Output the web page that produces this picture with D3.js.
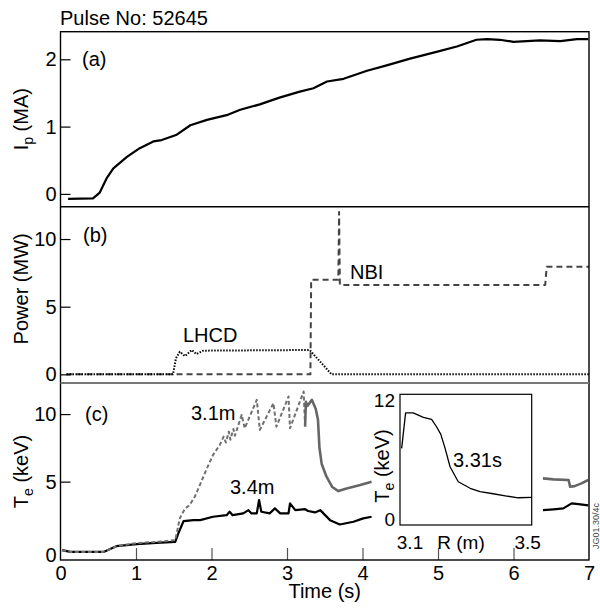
<!DOCTYPE html>
<html>
<head>
<meta charset="utf-8">
<script src="https://cdn.jsdelivr.net/npm/d3@7"></script>
<style>
  html, body { margin: 0; padding: 0; background: #ffffff; }
</style>
</head>
<body>
<div id="chart"></div>
<script>
// plasma current, panel (a)
const ipTime = [0.10, 0.43, 0.52, 0.61, 0.70, 0.88, 1.05, 1.23, 1.34, 1.54, 1.72, 1.94, 2.20, 2.38, 2.64, 2.90, 3.17, 3.35, 3.53, 3.75, 4.06, 4.32, 4.63, 4.98, 5.25, 5.51, 5.65, 5.82, 6.00, 6.35, 6.62, 6.84, 6.99];
const ipValue = [-0.075, -0.065, 0.02, 0.23, 0.38, 0.55, 0.68, 0.78, 0.80, 0.88, 1.02, 1.10, 1.17, 1.25, 1.33, 1.43, 1.52, 1.57, 1.67, 1.71, 1.83, 1.91, 2.01, 2.11, 2.19, 2.29, 2.30, 2.29, 2.26, 2.28, 2.27, 2.30, 2.30];

// heating power, panel (b)
const lhcdTime = [0.08, 1.49, 1.53, 1.58, 1.65, 1.74, 1.80, 1.89, 3.30, 3.59, 7.0];
const lhcdPower = [0, 0, 1.2, 1.67, 1.35, 1.8, 1.5, 1.75, 1.8, 0, 0];
const nbiTime = [0.08, 3.31, 3.32, 3.68, 3.69, 3.70, 3.72, 6.42, 6.44, 7.0];
const nbiPower = [0, 0, 7.0, 7.0, 12.0, 6.6, 6.6, 6.6, 7.96, 7.96];

// electron temperature, panel (c)
const te31Time = [0.02, 0.13, 0.57, 0.74, 1.01, 1.27, 1.52, 1.58, 1.65, 1.71, 1.78, 1.85, 1.94, 2.02, 2.11, 2.16, 2.19, 2.23, 2.25, 2.29, 2.31, 2.40, 2.44, 2.60, 2.64, 2.82, 2.86, 3.02, 3.04, 3.22, 3.24];
const te31Value = [-0.07, -0.2, -0.2, 0.22, 0.45, 0.54, 0.67, 2.28, 3.02, 3.26, 3.9, 4.8, 5.99, 6.97, 7.72, 8.33, 7.9, 8.7, 8.1, 8.9, 8.4, 9.94, 8.95, 11.05, 8.83, 10.8, 9.07, 11.3, 8.95, 11.67, 9.07];
const te31LateTime = [3.24, 3.25, 3.27, 3.33, 3.38, 3.41, 3.43, 3.46, 3.52, 3.60, 3.68, 3.79, 3.97, 4.12];
const te31LateValue = [9.07, 10.9, 10.6, 11.05, 10.4, 9.6, 7.5, 6.3, 5.4, 4.6, 4.3, 4.5, 4.75, 4.99];
const te31EndTime = [6.39, 6.53, 6.73, 6.75, 6.81, 6.90, 6.99];
const te31EndValue = [5.24, 5.17, 5.12, 4.62, 4.67, 4.87, 5.12];

const te34Time = [0.02, 0.13, 0.57, 0.74, 1.01, 1.27, 1.52, 1.56, 1.63, 1.76, 1.85, 2.02, 2.20, 2.24, 2.28, 2.42, 2.49, 2.53, 2.60, 2.63, 2.66, 2.77, 2.84, 2.91, 3.02, 3.04, 3.11, 3.24, 3.28, 3.37, 3.44, 3.57, 3.70, 3.88, 4.01, 4.12];
const te34Value = [-0.07, -0.2, -0.2, 0.22, 0.37, 0.47, 0.54, 1.16, 2.08, 2.15, 2.15, 2.4, 2.52, 2.77, 2.52, 2.65, 2.89, 2.65, 2.65, 3.64, 2.77, 2.65, 3.02, 2.65, 2.65, 3.39, 2.89, 2.96, 2.83, 2.72, 2.89, 2.15, 1.83, 2.03, 2.28, 2.4];
const te34EndTime = [6.39, 6.53, 6.66, 6.77, 6.86, 6.99];
const te34EndValue = [2.89, 2.95, 3.02, 3.39, 3.34, 3.24];

// inset profile at 3.31 s
const profileR = [3.105, 3.117, 3.14, 3.171, 3.196, 3.211, 3.224, 3.237, 3.252, 3.277, 3.313, 3.343, 3.383, 3.424, 3.459, 3.5];
const profileTe = [7.04, 10.3, 10.3, 9.88, 9.7, 9.02, 8.32, 7.04, 5.35, 3.97, 3.37, 3.06, 2.87, 2.66, 2.5, 2.54];

const timeTicks = [0, 1, 2, 3, 4, 5, 6, 7];

const FONT = "'Liberation Sans', Arial, Helvetica, sans-serif";

const width = 600, height = 612;
const left = 60.5, right = 589;
const topA = 31.7, topB = 206.7, topC = 383, bottomC = 560;

const svg = d3.select("#chart").append("svg")
  .attr("width", width)
  .attr("height", height)
  .style("font-family", FONT);

const x = d3.scaleLinear([0, 7], [left, right]);
const yA = d3.scaleLinear([-0.19, 2.41], [topB, topA]);
const yB = d3.scaleLinear([-0.64, 12.39], [topC, topB]);
const yC = d3.scaleLinear([-0.8, 12.3], [bottomC, topC]);

const defs = svg.append("defs");
[["clipA", topA, topB], ["clipB", topB, topC], ["clipC", topC, bottomC]].forEach(([id, y0, y1]) => {
  defs.append("clipPath").attr("id", id)
    .append("rect")
    .attr("x", left).attr("y", y0)
    .attr("width", right - left).attr("height", y1 - y0);
});

function series(ts, vs) {
  return ts.map((t, i) => [t, vs[i]]);
}

function drawLine(clip, yScale, data, color, widthPx, dash) {
  const line = d3.line().x(d => x(d[0])).y(d => yScale(d[1]));
  svg.append("path")
    .attr("clip-path", `url(#${clip})`)
    .attr("d", line(data))
    .attr("fill", "none")
    .attr("stroke", color)
    .attr("stroke-width", widthPx)
    .attr("stroke-linejoin", "round")
    .attr("stroke-dasharray", dash || null);
}

function styleAxis(g) {
  g.select(".domain").remove();
  g.attr("font-size", 20).attr("font-family", FONT);
  g.selectAll(".tick line").attr("stroke", "#000").attr("stroke-width", 1.2);
  g.selectAll(".tick text").attr("fill", "#000");
}

// ---- panel (a)
drawLine("clipA", yA, series(ipTime, ipValue), "#000", 2.2);

svg.append("g")
  .attr("transform", `translate(${left},0)`)
  .call(d3.axisLeft(yA).tickValues([0, 1, 2]).tickSize(-10).tickPadding(4).tickFormat(d3.format("d")))
  .call(styleAxis);

// ---- panel (b)
drawLine("clipB", yB, series(nbiTime, nbiPower), "#444", 2, "6,4");
drawLine("clipB", yB, series(lhcdTime, lhcdPower), "#000", 2, "1.5,1.5");

svg.append("g")
  .attr("transform", `translate(${left},0)`)
  .call(d3.axisLeft(yB).tickValues([0, 5, 10]).tickSize(-10).tickPadding(4).tickFormat(d3.format("d")))
  .call(styleAxis);

// ---- panel (c)
drawLine("clipC", yC, series(te34Time, te34Value), "#000", 2.2);
drawLine("clipC", yC, series(te34EndTime, te34EndValue), "#000", 2.2);
drawLine("clipC", yC, series(te31Time, te31Value), "#707070", 2, "4,2.5");
drawLine("clipC", yC, series(te31LateTime, te31LateValue), "#666", 2.6);
drawLine("clipC", yC, series(te31EndTime, te31EndValue), "#666", 2.6);

svg.append("g")
  .attr("transform", `translate(${left},0)`)
  .call(d3.axisLeft(yC).tickValues([0, 5, 10]).tickSize(-10).tickPadding(4).tickFormat(d3.format("d")))
  .call(styleAxis)
  .call(g => g.selectAll(".tick").filter(d => d === 0).select("text").attr("dy", "0.62em"))
  .call(g => g.selectAll(".tick").filter(d => d === 0).select("line").remove());

svg.append("g")
  .attr("transform", `translate(0,${bottomC})`)
  .call(d3.axisBottom(x).tickValues(timeTicks).tickSize(-12).tickPadding(6).tickFormat(d3.format("d")))
  .call(styleAxis)
  .call(g => g.selectAll(".tick line").attr("stroke", "#555"))
  .call(g => g.selectAll(".tick").filter(d => d === 0 || d === 7).select("line").remove());

// ---- frame
svg.append("rect")
  .attr("x", left).attr("y", topA)
  .attr("width", right - left).attr("height", bottomC - topA)
  .attr("fill", "none")
  .attr("stroke", "#000")
  .attr("stroke-width", 1.4);

svg.append("line")
  .attr("x1", left).attr("x2", right)
  .attr("y1", topB).attr("y2", topB)
  .attr("stroke", "#000")
  .attr("stroke-width", 1.4);

svg.append("line")
  .attr("x1", left).attr("x2", right)
  .attr("y1", topC).attr("y2", topC)
  .attr("stroke", "#777")
  .attr("stroke-width", 2);

// ---- inset
const xI = d3.scaleLinear([3.1, 3.5], [400, 531.7]);
const yI = d3.scaleLinear([0, 12], [525, 394.3]);

svg.append("rect")
  .attr("x", xI(3.1)).attr("y", yI(12))
  .attr("width", xI(3.5) - xI(3.1)).attr("height", yI(0) - yI(12))
  .attr("fill", "#fff")
  .attr("stroke", "#000")
  .attr("stroke-width", 1.2);

svg.append("path")
  .attr("d", d3.line().x(d => xI(d[0])).y(d => yI(d[1]))(series(profileR, profileTe)))
  .attr("fill", "none")
  .attr("stroke", "#000")
  .attr("stroke-width", 1.3)
  .attr("stroke-linejoin", "round");

svg.append("text")
  .attr("x", xI(3.1) - 5).attr("y", yI(12) + 6)
  .attr("dy", "0.35em")
  .attr("text-anchor", "end")
  .attr("font-size", 19)
  .text("12");

svg.append("text")
  .attr("x", xI(3.1) - 5).attr("y", yI(0) - 6)
  .attr("dy", "0.35em")
  .attr("text-anchor", "end")
  .attr("font-size", 19)
  .text("0");

svg.append("text")
  .attr("x", xI(3.1) + 10).attr("y", 548.5)
  .attr("text-anchor", "middle")
  .attr("font-size", 19)
  .text("3.1");

svg.append("text")
  .attr("x", xI(3.5) - 4).attr("y", 548.5)
  .attr("text-anchor", "middle")
  .attr("font-size", 19)
  .text("3.5");

svg.append("text")
  .attr("x", 461).attr("y", 548.5)
  .attr("text-anchor", "middle")
  .attr("font-size", 19)
  .text("R (m)");

svg.append("text")
  .attr("transform", "translate(389,466) rotate(-90)")
  .attr("text-anchor", "middle")
  .attr("font-size", 20)
  .call(t => {
    t.append("tspan").text("T");
    t.append("tspan").attr("font-size", 14).attr("dy", 5).text("e");
    t.append("tspan").attr("dy", -5).text(" (keV)");
  });

svg.append("text")
  .attr("x", 453).attr("y", 467)
  .attr("font-size", 20)
  .text("3.31s");

// ---- axis titles
function yTitle(cx, cy, main, sub, rest) {
  svg.append("text")
    .attr("transform", `translate(${cx},${cy}) rotate(-90)`)
    .attr("text-anchor", "middle")
    .attr("font-size", 20)
    .call(t => {
      t.append("tspan").text(main);
      if (sub) {
        t.append("tspan").attr("font-size", 14).attr("dy", 5).text(sub);
        t.append("tspan").attr("dy", -5).text(rest);
      }
    });
}

yTitle(28, (topA + topB) / 2, "I", "p", " (MA)");
yTitle(28, (topB + topC) / 2 - 6, "Power (MW)");
yTitle(28, (topC + bottomC) / 2, "T", "e", " (keV)");

svg.append("text")
  .attr("x", (left + right) / 2).attr("y", 598)
  .attr("text-anchor", "middle")
  .attr("font-size", 20)
  .text("Time (s)");

// ---- labels
svg.append("text")
  .attr("x", 60).attr("y", 25)
  .attr("font-size", 20)
  .text("Pulse No: 52645");

[["(a)", 82, yA(2)], ["(b)", 83, 235], ["(c)", 85, 413.5]].forEach(([label, lx, ly]) => {
  svg.append("text")
    .attr("x", lx).attr("y", ly)
    .attr("dy", "0.35em")
    .attr("font-size", 20)
    .text(label);
});

[["LHCD", 183, 342], ["NBI", 350, 279], ["3.1m", 191, 420], ["3.4m", 230, 494]].forEach(([label, lx, ly]) => {
  svg.append("text")
    .attr("x", lx).attr("y", ly)
    .attr("font-size", 20)
    .text(label);
});

svg.append("text")
  .attr("transform", "translate(598.5,526) rotate(-90)")
  .attr("text-anchor", "middle")
  .attr("font-size", 9)
  .attr("fill", "#444")
  .text("JG01.30/4c");
</script>
</body>
</html>
